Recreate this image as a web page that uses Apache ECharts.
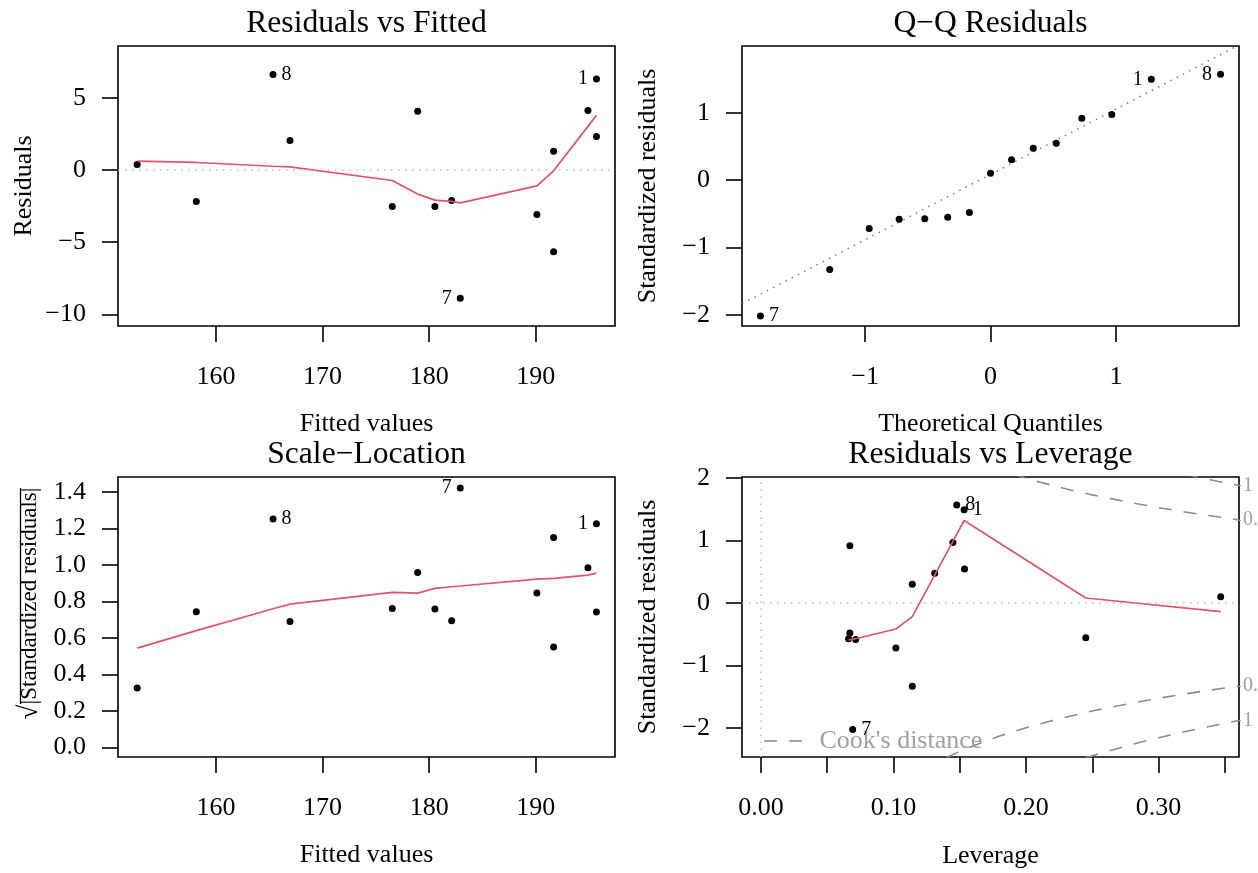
<!DOCTYPE html>
<html><head><meta charset="utf-8">
<script src="https://cdn.jsdelivr.net/npm/echarts@6/dist/echarts.min.js"></script>
<style>html,body{margin:0;padding:0;background:#fff}#c{width:1258px;height:873px}</style>
</head><body><div id="c"></div>
<script>
// ---------- data (ordered by fitted value) ----------
const obsLabels   = ['', '', '8', '', '', '', '', '', '7', '', '', '', '', '1', ''];
const fitted      = [152.6, 158.15, 165.35, 166.94, 176.54, 178.92, 180.54, 182.11, 182.92, 190.11, 191.68, 191.68, 194.9, 195.7, 195.7];
const residuals   = [0.38, -2.18, 6.61, 2.04, -2.53, 4.07, -2.53, -2.11, -8.89, -3.08, 1.30, -5.67, 4.12, 6.30, 2.32];
const sqrtAbsStd  = [0.325, 0.744, 1.253, 0.690, 0.761, 0.959, 0.759, 0.695, 1.423, 0.846, 1.151, 0.551, 0.985, 1.226, 0.742];
const leverage    = [0.3469, 0.2451, 0.1477, 0.1311, 0.0715, 0.0671, 0.0661, 0.0671, 0.0692, 0.1018, 0.1142, 0.1142, 0.1448, 0.1533, 0.1536];
const stdResid    = [0.101, -0.557, 1.569, 0.477, -0.584, 0.916, -0.573, -0.482, -2.03, -0.723, 0.300, -1.333, 0.969, 1.494, 0.546];

// smoothers (red lines)
const rvfSmoothX  = [152.6, 158.15, 165.35, 166.94, 176.54, 178.92, 180.54, 182.11, 182.92, 190.11, 191.68, 194.9, 195.7];
const rvfSmoothY  = [0.61, 0.52, 0.26, 0.21, -0.73, -1.67, -2.09, -2.18, -2.28, -1.10, -0.06, 3.02, 3.79];
const slSmoothY   = [0.544, 0.640, 0.760, 0.786, 0.850, 0.846, 0.872, 0.881, 0.885, 0.923, 0.927, 0.945, 0.956];
const rvlSmoothX  = [0.0661, 0.0671, 0.0692, 0.0715, 0.1018, 0.1142, 0.1311, 0.1448, 0.1477, 0.1533, 0.2451, 0.3469];
const rvlSmoothY  = [-0.594, -0.590, -0.580, -0.573, -0.418, -0.220, 0.446, 0.986, 1.10, 1.322, 0.080, -0.140];

// Q-Q
const qqLabels      = ['7', '', '', '', '', '', '', '', '', '', '', '', '', '1', '8'];
const qqTheoretical = [-1.834, -1.282, -0.967, -0.728, -0.524, -0.341, -0.168, 0, 0.168, 0.341, 0.524, 0.728, 0.967, 1.282, 1.834];
const qqSample      = [-2.018, -1.325, -0.717, -0.579, -0.574, -0.549, -0.480, 0.104, 0.302, 0.475, 0.549, 0.920, 0.975, 1.499, 1.573];
const qqLineX       = [-1.981, 1.981];
const qqLineY       = [-1.837, 2.007];

// Cook's distance contours [leverage, std. residual]
const cook05Upper = [[0.19, 2.065], [0.2, 2.0], [0.21, 1.940], [0.22, 1.883], [0.235, 1.804], [0.25, 1.732], [0.28, 1.604], [0.3, 1.528], [0.33, 1.425], [0.3607, 1.332]];
const cook1Upper  = [[0.32, 2.062], [0.33, 2.015], [0.34, 1.970], [0.35, 1.927], [0.3607, 1.884]];
const cook05Lower = [[0.14, -2.478], [0.15, -2.380], [0.16, -2.291], [0.17, -2.210], [0.18, -2.134], [0.2, -2.0], [0.22, -1.883], [0.25, -1.732], [0.28, -1.604], [0.3, -1.528], [0.33, -1.425], [0.3607, -1.332]];
const cook1Lower  = [[0.245, -2.483], [0.26, -2.386], [0.28, -2.268], [0.3, -2.160], [0.33, -2.015], [0.3607, -1.884]];
const cookLevels  = ['0.5', '1', '0.5', '1'];

// ticks
const fittedTicks   = [160, 170, 180, 190];
const residTicks    = [-10, -5, 0, 5];
const qqXTicks      = [-1, 0, 1];
const qqYTicks      = [-2, -1, 0, 1];
const slYTicks      = [0, 0.2, 0.4, 0.6, 0.8, 1.0, 1.2, 1.4];
const levTicks      = [0, 0.05, 0.10, 0.15, 0.20, 0.25, 0.30, 0.35];
const levLabelTicks = [0, 0.10, 0.20, 0.30];
const stdTicks      = [-2, -1, 0, 1, 2];

// ---------- chart ----------
const FONT = "'Liberation Serif','Times New Roman',serif";
const RED = '#DF536B';
const minus = v => String(v).replace('-', '\u2212');

const ranges = [
  {x: [150.80, 197.44], y: [-10.81, 8.59]},
  {x: [-1.981, 1.981], y: [-2.166, 1.993]},
  {x: [150.80, 197.44], y: [-0.053, 1.483]},
  {x: [-0.0143, 0.3607], y: [-2.469, 2.019]}
];

function grid(left, top) {
  return {left: left, top: top, width: 497, height: 280, show: true, borderColor: '#000', borderWidth: 1.6,
    backgroundColor: 'transparent', containLabel: false, outerBoundsMode: 'none'};
}
function axis(dim, gi, range, ticks, labels, fmt, margin) {
  return {
    type: 'value', gridIndex: gi, min: range[0], max: range[1],
    position: dim === 'x' ? 'bottom' : 'left',
    splitLine: {show: false}, axisLine: {show: false, onZero: false},
    axisTick: {show: true, inside: false, length: 16, lineStyle: {color: '#000', width: 1.6}, customValues: ticks},
    axisLabel: {show: true, customValues: labels, margin: margin, fontSize: 26, fontFamily: FONT, color: '#000', formatter: fmt}
  };
}
function pts(xs, ys, labs, range) {
  const mid = (range[0] + range[1]) / 2;
  return xs.map((x, i) => {
    const d = {value: [x, ys[i]]};
    if (labs[i]) d.label = {show: true, formatter: labs[i], position: x > mid ? 'left' : 'right', distance: 5, fontSize: 20, fontFamily: FONT, color: '#000'};
    return d;
  });
}
function scatter(gi, data) {
  return {type: 'scatter', xAxisIndex: gi, yAxisIndex: gi, data: data, symbol: 'circle', symbolSize: 7, itemStyle: {color: '#000', opacity: 1}, z: 3, silent: true};
}
function smooth(gi, xs, ys) {
  return {type: 'line', xAxisIndex: gi, yAxisIndex: gi, data: xs.map((x, i) => [x, ys[i]]), showSymbol: false, symbol: 'none', lineStyle: {color: RED, width: 1.7}, z: 4, silent: true};
}
const dotted = {color: '#BEBEBE', width: 1.5, type: [1.5, 5.5]};
function zeroLine(gi, items) {
  return {type: 'line', xAxisIndex: gi, yAxisIndex: gi, data: [], silent: true,
    markLine: {silent: true, symbol: ['none', 'none'], label: {show: false}, lineStyle: dotted, data: items, animation: false}};
}
function cookLine(data) {
  return {type: 'line', xAxisIndex: 3, yAxisIndex: 3, data: data, showSymbol: false, symbol: 'none', clip: true,
    lineStyle: {color: '#8C8C8C', width: 1.6, type: [13, 12]}, z: 2, silent: true};
}
const cookEnds = [cook05Upper, cook1Upper, cook05Lower, cook1Lower].map(a => a[a.length - 1][1]);

const option = {
  animation: false,
  backgroundColor: '#fff',
  grid: [grid(118, 46), grid(742, 46), grid(118, 477), grid(742, 477)],
  xAxis: [
    axis('x', 0, ranges[0].x, fittedTicks, fittedTicks, v => minus(v), 38),
    axis('x', 1, ranges[1].x, qqXTicks, qqXTicks, v => minus(v), 38),
    axis('x', 2, ranges[2].x, fittedTicks, fittedTicks, v => minus(v), 38),
    axis('x', 3, ranges[3].x, levTicks, levLabelTicks, v => v.toFixed(2), 38)
  ],
  yAxis: [
    axis('y', 0, ranges[0].y, residTicks, residTicks, v => minus(v), 32),
    axis('y', 1, ranges[1].y, qqYTicks, qqYTicks, v => minus(v), 32),
    axis('y', 2, ranges[2].y, slYTicks, slYTicks, v => v.toFixed(1), 32),
    axis('y', 3, ranges[3].y, stdTicks, stdTicks, v => minus(v), 32),
    {
      type: 'value', gridIndex: 3, min: ranges[3].y[0], max: ranges[3].y[1], position: 'right',
      splitLine: {show: false}, axisLine: {show: false, onZero: false},
      axisTick: {show: true, length: 2, lineStyle: {color: '#A0A0A0', width: 1.2}, customValues: cookEnds},
      axisLabel: {show: true, customValues: cookEnds, margin: 4, fontSize: 20, fontFamily: FONT, color: '#A0A0A0',
        formatter: v => cookLevels[cookEnds.indexOf(v)] || ''}
    }
  ],
  series: [
    zeroLine(0, [{yAxis: 0}]),
    scatter(0, pts(fitted, residuals, obsLabels, ranges[0].x)),
    smooth(0, rvfSmoothX, rvfSmoothY),

    {type: 'line', xAxisIndex: 1, yAxisIndex: 1, data: qqLineX.map((x, i) => [x, qqLineY[i]]), showSymbol: false, symbol: 'none', clip: true,
      lineStyle: {color: '#7F7F7F', width: 1.5, type: [1.5, 5.5]}, z: 2, silent: true},
    scatter(1, pts(qqTheoretical, qqSample, qqLabels, ranges[1].x)),

    scatter(2, pts(fitted, sqrtAbsStd, obsLabels, ranges[2].x)),
    smooth(2, rvfSmoothX, slSmoothY),

    zeroLine(3, [{yAxis: 0}, {xAxis: 0}]),
    cookLine(cook05Upper), cookLine(cook1Upper), cookLine(cook05Lower), cookLine(cook1Lower),
    scatter(3, pts(leverage, stdResid, obsLabels, ranges[3].x)),
    smooth(3, rvlSmoothX, rvlSmoothY)
  ],
  graphic: [
    // titles
    {type: 'text', x: 366.5, y: 24, style: {text: 'Residuals vs Fitted', fontSize: 31.6, fontFamily: FONT, fill: '#000', align: 'center', verticalAlign: 'middle'}},
    {type: 'text', x: 990.5, y: 24, style: {text: 'Q\u2212Q Residuals', fontSize: 31.6, fontFamily: FONT, fill: '#000', align: 'center', verticalAlign: 'middle'}},
    {type: 'text', x: 366.5, y: 455, style: {text: 'Scale\u2212Location', fontSize: 31.6, fontFamily: FONT, fill: '#000', align: 'center', verticalAlign: 'middle'}},
    {type: 'text', x: 990.5, y: 455, style: {text: 'Residuals vs Leverage', fontSize: 31.6, fontFamily: FONT, fill: '#000', align: 'center', verticalAlign: 'middle'}},
    // x axis titles
    {type: 'text', x: 366.5, y: 424, style: {text: 'Fitted values', fontSize: 26, fontFamily: FONT, fill: '#000', align: 'center', verticalAlign: 'middle'}},
    {type: 'text', x: 990.5, y: 424, style: {text: 'Theoretical Quantiles', fontSize: 26, fontFamily: FONT, fill: '#000', align: 'center', verticalAlign: 'middle'}},
    {type: 'text', x: 366.5, y: 855, style: {text: 'Fitted values', fontSize: 26, fontFamily: FONT, fill: '#000', align: 'center', verticalAlign: 'middle'}},
    {type: 'text', x: 990.5, y: 856, style: {text: 'Leverage', fontSize: 26, fontFamily: FONT, fill: '#000', align: 'center', verticalAlign: 'middle'}},
    // y axis titles
    {type: 'text', x: 24, y: 186, rotation: Math.PI / 2, style: {text: 'Residuals', fontSize: 26, fontFamily: FONT, fill: '#000', align: 'center', verticalAlign: 'middle'}},
    {type: 'text', x: 648, y: 186, rotation: Math.PI / 2, style: {text: 'Standardized residuals', fontSize: 26, fontFamily: FONT, fill: '#000', align: 'center', verticalAlign: 'middle'}},
    {type: 'text', x: 648, y: 617, rotation: Math.PI / 2, style: {text: 'Standardized residuals', fontSize: 26, fontFamily: FONT, fill: '#000', align: 'center', verticalAlign: 'middle'}},
    {type: 'text', x: 30, y: 596, rotation: Math.PI / 2, style: {text: '|Standardized residuals|', fontSize: 23, fontFamily: FONT, fill: '#000', align: 'center', verticalAlign: 'middle'}},
    {type: 'text', x: 30, y: 712, rotation: Math.PI / 2, style: {text: '\u221A', fontSize: 27, fontFamily: FONT, fill: '#000', align: 'center', verticalAlign: 'middle'}},
    {type: 'line', shape: {x1: 20.5, y1: 488, x2: 20.5, y2: 704}, style: {stroke: '#000', lineWidth: 1.3}},
    // Cook's distance legend
    {type: 'line', shape: {x1: 764, y1: 741, x2: 804, y2: 741}, style: {stroke: '#8C8C8C', lineWidth: 1.6, lineDash: [13, 12]}},
    {type: 'text', x: 819.5, y: 741.5, style: {text: "Cook's distance", fontSize: 26, fontFamily: FONT, fill: '#A0A0A0', align: 'left', verticalAlign: 'middle'}}
  ]
};
const chart = echarts.init(document.getElementById('c'), null, {renderer: 'canvas'});
chart.setOption(option);
</script>
</body></html>
